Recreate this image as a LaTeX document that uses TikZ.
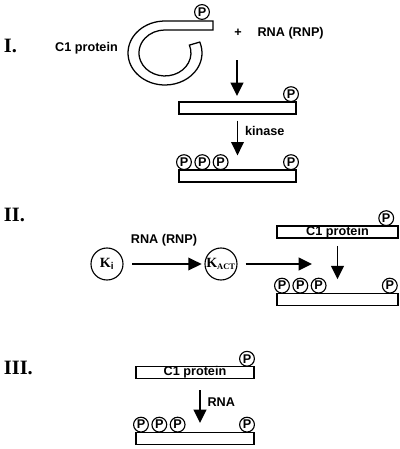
\documentclass[tikz,border=0pt]{standalone}
\usepackage{fontspec}
\setmainfont{Liberation Serif}
\setsansfont{Liberation Sans}
\usetikzlibrary{arrows.meta, positioning}

\begin{document}
\begin{tikzpicture}[x=0.025cm, y=-0.025cm,
        bar/.style={draw, line width=0.9pt, minimum height=0.3cm, inner sep=0pt, font=\sffamily\bfseries\fontsize{9}{9}\selectfont},
        pho/.style={circle, draw, line width=0.8pt, minimum size=0.37cm, inner sep=0pt, font=\sffamily\bfseries\fontsize{9}{9}\selectfont},
        enz/.style={circle, draw, line width=0.8pt, minimum size=0.8cm, inner sep=0pt, font=\bfseries\fontsize{10}{10}\selectfont},
        lbl/.style={font=\sffamily\bfseries\fontsize{9}{9}\selectfont},
        num/.style={anchor=west, inner sep=0pt, font=\bfseries\fontsize{14.5}{14.5}\selectfont},
        ->, >={Triangle[length=9.5pt, width=9pt]}, line width=1.3pt, node distance=0.06cm]
        \useasboundingbox (0,0) rectangle (400,449);

        % I.
        \node[num] (s1) at (3,46) {I.};
        \node[lbl] (c1) at (86.5,48) {C1 protein};
        \draw[-, line width=0.9pt] (213,21) -- (165,21) arc[start angle=-90, end angle=-380, x radius=37, y radius=32]
            -- (189.4,45.1) arc[start angle=-380, end angle=-90, x radius=26, y radius=23] -- (213,30) -- cycle;
        \node[pho] (p0) at (202,12) {P};
        \node[lbl] (plus) at (238,33) {+};
        \node[lbl, anchor=west] (rna1) at (252,33) {RNA (RNP)};
        \node[bar, minimum width=2.925cm] (b1) at (237.5,108) {};
        \node[bar, minimum width=2.925cm] (b2) at (237.5,176) {};
        \node[pho, above left=0.04cm and 0pt of b1.north east] (p1) {P};
        \node[pho, above right=0.04cm and 0pt of b2.north west] (p2) {P};
        \node[pho, right=of p2] (p3) {P};
        \node[pho, right=of p3] (p4) {P};
        \node[pho, above left=0.04cm and 0pt of b2.north east] (p5) {P};
        \coordinate (a1) at (237,60);
        \coordinate (a2) at (237,96);
        \draw (a1) -- (a2);
        \draw[shorten <=0.15cm, shorten >=0.35cm] (b1) -- (b2) node[lbl, pos=0.3, right=0.05cm] {kinase};

        % II.
        \node[num] (s2) at (3,215) {II.};
        \node[enz] (ki) at (107,264) {K\textsubscript{\sffamily i}};
        \node[enz] (kact) at (221,264) {K\textsubscript{\fontsize{6}{6}\selectfont ACT}};
        \draw[shorten <=0.22cm, shorten >=0.07cm] (ki) -- (kact) node[lbl, midway, above=0.3cm] {RNA (RNP)};
        \coordinate (j) at (312,264);
        \draw[shorten <=0.2cm] (kact) -- (j);
        \node[bar, minimum width=3.025cm] (c2) at (337.5,232) {C1 protein};
        \node[bar, minimum width=3.025cm] (d2) at (337.5,299.5) {};
        \node[pho, above left=0.04cm and 0.17cm of c2.north east] (p6) {P};
        \node[pho, above right=0.04cm and 0pt of d2.north west] (p7) {P};
        \node[pho, right=of p7] (p8) {P};
        \node[pho, right=of p8] (p9) {P};
        \node[pho, above left=0.04cm and 0.08cm of d2.north east] (p10) {P};
        \draw[shorten <=0.18cm, shorten >=0.34cm] (c2) -- (d2);

        % III.
        \node[num] (s3) at (3,368) {III.};
        \node[bar, minimum width=2.95cm, minimum height=0.27cm] (c3) at (195,372.5) {C1 protein};
        \node[bar, minimum width=2.95cm] (d3) at (195,438.5) {};
        \node[pho, above left=0.04cm and 0.05cm of c3.north east] (p11) {P};
        \node[pho, above right=0.04cm and 0pt of d3.north west] (p12) {P};
        \node[pho, right=of p12] (p13) {P};
        \node[pho, right=of p13] (p14) {P};
        \node[pho, above left=0.04cm and 0.05cm of d3.north east] (p15) {P};
        \coordinate (r1) at (200,390);
        \coordinate (r2) at (200,423);
        \draw (r1) -- (r2) node[lbl, pos=0.36, right=0.05cm] {RNA};
\end{tikzpicture}
\end{document}
